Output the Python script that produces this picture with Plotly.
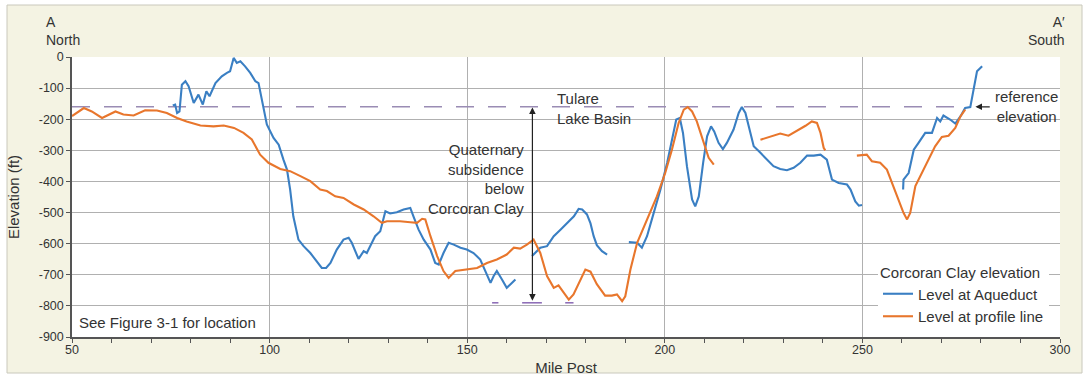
import plotly.graph_objects as go

# ---------------- data ----------------
aqueduct_mile = [
    75.5, 76.1, 76.6, 77.2, 77.8, 78.7, 79.5, 80.8, 82.0, 83.1, 84.0, 84.8, 86.3, 87.9, 89.2, 90.0,
    90.9, 91.7, 92.6, 93.8, 95.1, 96.4, 97.2, 98.1, 99.3, 101.0, 102.3, 103.5, 104.4, 105.2, 106.0,
    107.3, 108.6, 110.3, 112.0, 113.2, 114.3, 115.4, 117.0, 118.7, 120.0, 120.8, 122.5, 123.8, 124.6,
    125.5, 126.7, 128.0, 129.3, 130.5, 132.2, 133.9, 135.6, 136.4, 137.7, 139.0, 140.7, 141.9, 142.8,
    144.0, 145.3, 146.6, 148.3, 149.9, 151.6, 153.3, 154.6, 155.9, 156.7, 157.5, 158.8, 160.0, 160.9,
    162.2, None,
    166.4, 168.5, 170.2, 171.9, 173.6, 175.7, 177.0, 178.2, 179.1, 180.3, 181.2, 182.0, 182.8, 184.1,
    185.4, None,
    190.9, 193.0, 194.2, 195.5, 197.2, 198.9, 200.6, 201.8, 202.9, 203.8, 204.6, 205.6, 206.9, 207.7,
    208.6, 209.7, 210.7, 211.7, 212.5, 213.6, 214.7, 215.7, 217.4, 218.7, 219.5, 220.4, 221.6, 222.5,
    224.2, 225.9, 227.5, 229.2, 230.9, 232.6, 234.3, 236.0, 237.7, 239.4, 241.0, 242.3, 244.0, 246.1,
    247.0, 248.2, 249.1, 249.9, None,
    260.3, 260.4, 261.7, 263.0, 264.2, 265.9, 267.6, 268.9, 269.7, 270.5, 272.2, 273.5, 274.8, 276.0,
    277.3, 278.1, 279.0, 280.3,
]
aqueduct_ft = [
    -156, -153, -180, -175, -89, -78, -94, -148, -121, -153, -110, -126, -84, -62, -51, -46,
    -3, -19, -14, -30, -51, -78, -84, -137, -217, -260, -282, -330, -362, -426, -512,
    -587, -608, -630, -656, -678, -678, -662, -619, -587, -581, -597, -649, -624, -630,
    -608, -576, -560, -496, -503, -499, -490, -485, -512, -555, -587, -619, -662, -667,
    -630, -597, -603, -613, -619, -630, -651, -688, -726, -704, -688, -715, -742, -731,
    -715, None,
    -640, -613, -608, -576, -555, -528, -512, -488, -490, -506, -535, -576, -605, -624,
    -635, None,
    -595, -597, -613, -576, -501, -426, -340, -266, -201, -196, -244, -351, -458, -480,
    -448, -340, -255, -223, -239, -276, -296, -276, -233, -180, -161, -180, -244, -287,
    -308, -330, -351, -360, -364, -356, -340, -317, -317, -314, -330, -394, -405, -410,
    -426, -464, -478, -476, None,
    -426, -394, -373, -298, -276, -244, -244, -196, -207, -188, -201, -214, -191, -164,
    -161, -110, -46, -30,
]

profile_mile = [
    50.0, 53.0, 55.0, 57.6, 61.0, 63.0, 65.6, 68.5, 71.5, 74.0, 76.6, 79.0, 82.5, 85.8, 88.4, 91.0,
    93.4, 95.5, 97.6, 99.7, 102.7, 105.2, 107.8, 110.3, 112.8, 114.5, 116.6, 118.7, 121.3, 123.8,
    126.3, 128.4, 129.7, 133.0, 135.6, 137.3, 138.6, 139.4, 140.7, 142.4, 144.0, 145.3, 147.0, 149.9,
    152.5, 155.0, 157.5, 160.0, 161.8, 163.4, 165.1, 166.8, 168.5, 170.2, 171.9, 173.1, 174.4, 175.7,
    176.9, 178.2, 179.9, 181.2, 182.8, 184.9, 186.6, 187.9, 189.2, 190.0, 191.3, 193.0, 195.5, 198.0,
    200.1, 201.8, 203.5, 204.8, 205.8, 206.9, 208.1, 209.8, 211.1, 212.4, None,
    224.2, 226.7, 229.2, 231.3, 233.4, 235.6, 237.2, 238.5, 239.4, 240.2, 240.6, None,
    248.6, 251.1, 252.4, 254.5, 256.2, 257.5, 258.7, 260.4, 261.3, 262.1, 263.4, 265.1, 266.8, 268.4,
    270.1, 271.8, 273.5, 274.8, 276.0,
]
profile_ft = [
    -190, -164, -175, -196, -175, -185, -188, -171, -172, -180, -196, -207, -220, -223, -220, -228,
    -244, -265, -314, -340, -360, -367, -383, -399, -426, -431, -448, -453, -474, -490,
    -512, -533, -528, -528, -531, -533, -520, -522, -576, -640, -688, -710, -688, -683,
    -678, -662, -651, -635, -613, -616, -603, -587, -630, -704, -742, -734, -758, -780,
    -763, -726, -683, -690, -730, -767, -767, -763, -785, -769, -683, -597, -522, -448,
    -373, -298, -212, -169, -161, -175, -207, -276, -324, -346, None,
    -266, -255, -246, -253, -238, -221, -207, -212, -244, -292, -300, None,
    -317, -314, -335, -340, -362, -405, -448, -501, -522, -501, -415, -373, -330, -287,
    -257, -253, -228, -191, -169,
]

reference_mile = [50, 276]
reference_ft = [-160, -160]

subsidence_base_mile = [156.3, 157.9, None, 163.9, 168.9, None, 174.8, 176.9]
subsidence_base_ft = [-790, -790, None, -790, -790, None, -790, -790]

y_ticks = [0, -100, -200, -300, -400, -500, -600, -700, -800, -900]
y_tick_text = ["0", "-100", "-200", "-300", "-400", "-500", "-600", "-700", "-800", "-900"]
x_ticks = [50, 100, 150, 200, 250, 300]

# ---------------- figure ----------------
FONT = "Arial, Liberation Sans, sans-serif"
BLUE = "#3a7fc3"
ORANGE = "#e8762c"
DASH = "#9a8cb4"

fig = go.Figure()

fig.add_trace(go.Scatter(x=reference_mile, y=reference_ft, mode="lines",
                         line=dict(color=DASH, width=1.6, dash="18px,14px"),
                         showlegend=False, hoverinfo="skip"))
fig.add_trace(go.Scatter(x=subsidence_base_mile, y=subsidence_base_ft, mode="lines",
                         line=dict(color="#8f6fb8", width=1.6),
                         showlegend=False, hoverinfo="skip"))
fig.add_trace(go.Scatter(x=aqueduct_mile, y=aqueduct_ft, mode="lines", name="Level at Aqueduct",
                         line=dict(color=BLUE, width=2.1), connectgaps=False))
fig.add_trace(go.Scatter(x=profile_mile, y=profile_ft, mode="lines", name="Level at profile line",
                         line=dict(color=ORANGE, width=2.1), connectgaps=False))

L, R, T, B = 72, 27, 57, 42
W, H = 1087, 379
pw, ph = W - L - R, H - T - B


def px_x(p):
    return (p - L) / pw


def px_y(p):
    return (H - B - p) / ph


shapes = [
    dict(type="rect", xref="paper", yref="paper", x0=px_x(7), x1=px_x(1082), y0=px_y(373), y1=px_y(5),
         fillcolor="#f4f3e3", line=dict(color="#c9c8bc", width=1), layer="below"),
    dict(type="rect", xref="paper", yref="paper", x0=0, x1=1, y0=0, y1=1,
         fillcolor="white", line=dict(width=0), layer="below"),
]

annotations = [
    dict(text="A<br>North", xref="paper", yref="paper", x=px_x(44), y=px_y(12), xanchor="left",
         yanchor="top", align="left", showarrow=False, font=dict(size=14, color="#333")),
    dict(text="A′<br>South", xref="paper", yref="paper", x=px_x(1067), y=px_y(12), xanchor="right",
         yanchor="top", align="right", showarrow=False, font=dict(size=14, color="#333")),
    dict(text="Tulare<br>Lake Basin", x=172.3, y=-100, xanchor="left", yanchor="top", align="left",
         showarrow=False, font=dict(size=15, color="#333")),
    dict(text="Quaternary<br>subsidence<br>below<br>Corcoran Clay", x=165.0, y=-265, xanchor="right",
         yanchor="top", align="right", showarrow=False, font=dict(size=15, color="#333")),
    dict(text="reference<br>elevation", x=283.0, y=-160, xanchor="left", yanchor="middle",
         align="center", showarrow=False, font=dict(size=15, color="#333")),
    dict(text="See Figure 3-1 for location", x=51.3, y=-852, xanchor="left", yanchor="middle",
         showarrow=False, font=dict(size=15, color="#333")),
    # vertical double arrow
    dict(x=166.5, y=-162, ax=166.5, ay=-788, xref="x", yref="y", axref="x", ayref="y", text="",
         showarrow=True, arrowhead=2, arrowside="end+start", arrowsize=1.1, arrowwidth=1.2,
         arrowcolor="#222"),
    # reference elevation arrow
    dict(x=278.6, y=-160, ax=282.6, ay=-160, xref="x", yref="y", axref="x", ayref="y", text="",
         showarrow=True, arrowhead=2, arrowsize=1.1, arrowwidth=1.2, arrowcolor="#222"),
]

fig.update_layout(
    width=W, height=H,
    margin=dict(l=L, r=R, t=T, b=B, pad=0, autoexpand=False),
    paper_bgcolor="white",
    plot_bgcolor="white",
    font=dict(family=FONT, color="#333", size=12.5),
    shapes=shapes,
    annotations=annotations,
    legend=dict(
        title=dict(text="Corcoran Clay elevation", font=dict(size=15, color="#333")),
        x=px_x(878), y=px_y(258), xanchor="left", yanchor="top",
        bgcolor="white", borderwidth=0, font=dict(size=15, color="#333"),
        itemwidth=30, tracegroupgap=0,
    ),
    xaxis=dict(
        range=[50, 300], tickvals=x_ticks, showgrid=True, gridcolor="#b0b0b0", gridwidth=1,
        showline=True, linecolor="#555", linewidth=1.5, ticks="outside", ticklen=4,
        tickcolor="#555", zeroline=False, ticklabelstandoff=-4, automargin=False,
        minor=dict(dtick=10, tick0=50, ticks="outside", ticklen=4, tickcolor="#555", showgrid=False),
        title=dict(text="Mile Post", font=dict(size=15, color="#333"), standoff=7),
        tickfont=dict(size=12.5, color="#333"),
    ),
    yaxis=dict(
        range=[-900, 0], tickvals=y_ticks, ticktext=y_tick_text, showgrid=True,
        gridcolor="#b0b0b0", gridwidth=1, showline=True, linecolor="#555", linewidth=1.5,
        ticks="outside", ticklen=4, tickcolor="#555", zeroline=False, automargin=False,
        title=dict(text="Elevation (ft)", font=dict(size=15, color="#333"), standoff=15),
        tickfont=dict(size=12.5, color="#333"),
    ),
)

fig.write_html("out.html")
